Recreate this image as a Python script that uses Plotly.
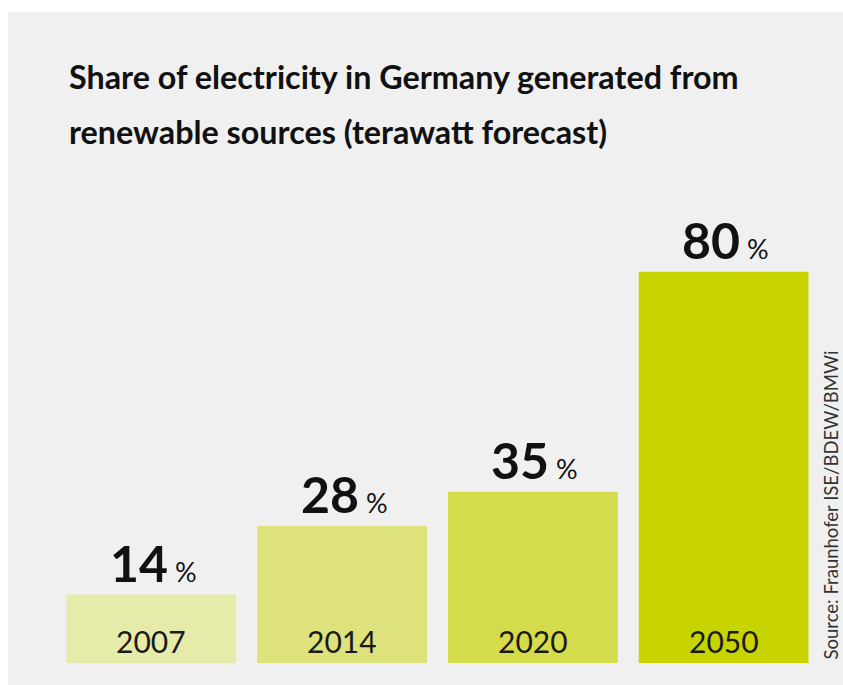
import plotly.graph_objects as go

years = ["2007", "2014", "2020", "2050"]
shares = [14, 28, 35, 80]
bar_colors = ["#e6ebaa", "#dde27c", "#d5dc4b", "#c8d400"]
title_lines = ["Share of electricity in Germany generated from",
               "renewable sources (terawatt forecast)"]
source_text = "Source: Fraunhofer ISE/BDEW/BMWi"

W, H = 843, 685
ml, mr, mt, mb = 56, 24, 174, 22
PW, PH = W - ml - mr, H - mt - mb


def px(x):  # window pixel x -> paper x
    return (x - ml) / PW


def py(y):  # window pixel y -> paper y
    return (H - mb - y) / PH


fig = go.Figure()
fig.add_trace(go.Bar(x=years, y=shares, marker=dict(color=bar_colors, line=dict(width=0)),
                     hoverinfo="skip"))

ann = []
for i, (yr, v) in enumerate(zip(years, shares)):
    ann.append(dict(x=i, y=v, xref="x", yref="y", yanchor="bottom", xanchor="center",
                    xshift=2, yshift=0, showarrow=False,
                    text="<b>%d</b><span style='font-size:27px;font-weight:normal'> %%</span>" % v,
                    font=dict(family="Lato", size=50, color="#111111")))
    ann.append(dict(x=i, y=0, xref="x", yref="y", yanchor="bottom", xanchor="center",
                    yshift=2, showarrow=False, text=yr,
                    font=dict(family="Lato", size=30, color="#1a1a1a")))

for i, line in enumerate(title_lines):
    ann.append(dict(x=px(67), y=py(98 + 55 * i), xref="paper", yref="paper",
                    xanchor="left", yanchor="bottom", showarrow=False,
                    text="<b>%s</b>" % line,
                    font=dict(family="Lato", size=32.3, color="#111111")))

ann.append(dict(x=px(830), y=py(662), xref="paper", yref="paper",
                xanchor="center", yanchor="bottom", textangle=-90, showarrow=False,
                text=source_text, font=dict(family="Lato", size=18.5, color="#333333")))

fig.update_layout(
    width=W, height=H,
    margin=dict(l=ml, r=mr, t=mt, b=mb, pad=0),
    paper_bgcolor="#ffffff", plot_bgcolor="rgba(0,0,0,0)",
    bargap=0.11, showlegend=False,
    xaxis=dict(visible=False, type="category", range=[-0.5, 3.5]),
    yaxis=dict(visible=False, range=[0, 100]),
    annotations=ann,
    shapes=[dict(type="rect", xref="paper", yref="paper", layer="below",
                 x0=px(8), x1=px(W + 10), y0=py(H + 10), y1=py(12),
                 fillcolor="#f0f0f0", line=dict(width=0))],
)

fig.write_html("out.html", config={"displayModeBar": False},
               post_script="document.body.style.margin='0';"
                           "document.body.style.overflow='hidden';")
